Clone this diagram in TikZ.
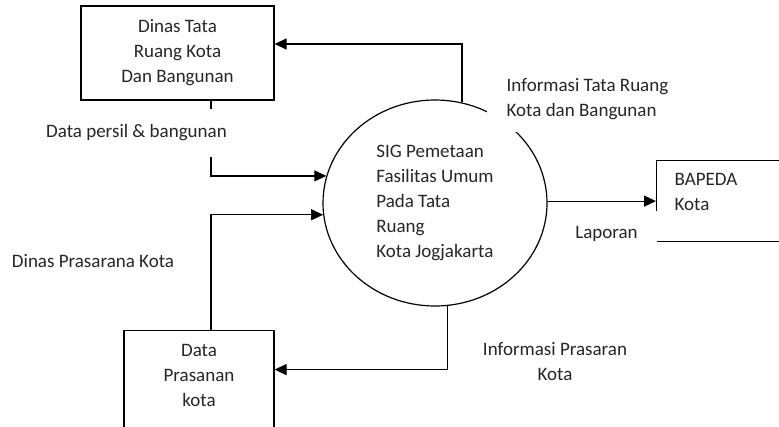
\documentclass[tikz,border=0pt]{standalone}
\usepackage{fontspec}
\setmainfont{Carlito}
\usetikzlibrary{arrows.meta,shapes.geometric}
\begin{document}
\begin{tikzpicture}[x=1pt,y=-1pt,line width=1.2pt,
  every node/.style={font=\fontsize{19}{25}\selectfont,text=black!85},
  entity/.style={draw=black,rectangle,inner sep=0pt},
  process/.style={draw=black,ellipse,inner sep=0pt,align=left},
  flow/.style={-{Triangle[length=12pt,width=11pt]}},
  lbl/.style={fill=white,inner sep=0pt}]
\useasboundingbox(0,0)rectangle(779,426);
\clip(0,0)rectangle(779,426);
%
\node[entity,minimum width=193pt,minimum height=94pt,align=center](dtr)at(177.5,53){Dinas Tata\\Ruang Kota\\Dan Bangunan};
\node[process,minimum width=224pt,minimum height=206pt](sig)at(435,203){SIG Pemetaan\\Fasilitas Umum\\Pada Tata\\Ruang\\Kota Jogjakarta};
\node[entity,minimum width=160pt,minimum height=81pt,anchor=north west](bpd)at(656,160){};
\node[anchor=west,align=left,inner sep=0pt](bpdt)at(674,192){BAPEDA\\Kota};
\node[entity,minimum width=150pt,minimum height=110pt,anchor=north](dpk)at(199,330){};
\node[align=center](dpkt)at(199,375){Data\\Prasanan\\kota};
%
\draw[flow](sig.75)|-([yshift=9pt]dtr.east);
\draw[flow]([xshift=33.5pt]dtr.south)|-(sig.166);
\draw[flow]([xshift=12pt]dpk.north)|-(sig.186);
\draw[flow](sig.277)|-([yshift=16pt]dpk.east);
\draw[flow](sig.east|-bpd.west)--(bpd.west);
%
\node[lbl,inner xsep=20pt,inner ysep=12pt,align=left](itr)at(587.5,99){Informasi Tata Ruang\\Kota dan Bangunan};
\node[lbl,inner xsep=19pt,inner ysep=15pt](lap)at(606.5,234){Laporan};
\node[lbl,minimum height=48pt,inner xsep=2pt](dpb)at(136.5,133){Data persil \& bangunan};
\node(dpr)at(93,261){Dinas Prasarana Kota};
\node[align=center](ipk)at(555,362){Informasi Prasaran\\Kota};
\end{tikzpicture}
\end{document}
